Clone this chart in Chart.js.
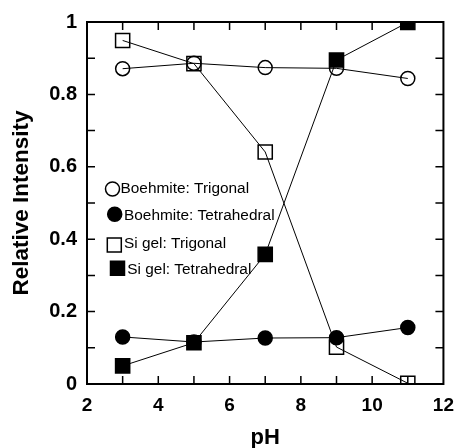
<!DOCTYPE html>
<html>
<head>
<meta charset="utf-8">
<script src="https://cdn.jsdelivr.net/npm/chart.js@4"></script>
<style>
  html, body { margin: 0; padding: 0; background: #fff; }
</style>
</head>
<body>
<canvas id="chart" width="464" height="448"></canvas>
<script>
// ==== Data ====
const phValues = [3, 5, 7, 9, 11];
const boehmiteTrigonal = [0.871, 0.886, 0.874, 0.872, 0.844];
const boehmiteTetrahedral = [0.130, 0.116, 0.127, 0.128, 0.156];
const siGelTrigonal = [0.949, 0.885, 0.641, 0.102, 0.002];
const siGelTetrahedral = [0.050, 0.114, 0.358, 0.895, 0.999];
const seriesLabels = ["Boehmite: Trigonal", "Boehmite: Tetrahedral", "Si gel: Trigonal", "Si gel: Tetrahedral"];

const FONT = "'Liberation Sans', Arial, Helvetica, sans-serif";

const toPoints = ys => phValues.map((x, i) => ({ x, y: ys[i] }));

function makeSet(label, ys, style, filled) {
  return {
    label,
    data: toPoints(ys),
    borderColor: "#000",
    borderWidth: 1,
    pointStyle: style,
    pointRadius: style === "rect" ? 10 : 7,
    pointBorderWidth: 1.5,
    pointBorderColor: "#000",
    pointBackgroundColor: filled ? "#000" : "rgba(0,0,0,0)",
    fill: false,
    tension: 0
  };
}

// legend placement (marker centre, text start, text baseline)
const legendSpots = [
  { mx: 112.5, my: 189, tx: 120.5, ty: 193.3 },
  { mx: 114.7, my: 214.3, tx: 124, ty: 219.7 },
  { mx: 114.3, my: 245, tx: 124, ty: 248 },
  { mx: 117.5, my: 268.3, tx: 127.3, ty: 273.5 }
];

// ==== Frame, inward ticks and legend ====
const framePlugin = {
  id: "frame",
  afterDatasetsDraw(chart) {
    const { ctx, chartArea: a, scales: { x, y } } = chart;
    ctx.save();
    ctx.strokeStyle = "#000";
    ctx.lineWidth = 1.5;
    const len = 8;
    for (let v = 3; v <= 11; v++) {
      const px = x.getPixelForValue(v);
      ctx.beginPath();
      ctx.moveTo(px, a.bottom); ctx.lineTo(px, a.bottom - len);
      ctx.moveTo(px, a.top); ctx.lineTo(px, a.top + len);
      ctx.stroke();
    }
    for (let i = 1; i <= 9; i++) {
      const py = y.getPixelForValue(i / 10);
      ctx.beginPath();
      ctx.moveTo(a.left, py); ctx.lineTo(a.left + len, py);
      ctx.moveTo(a.right, py); ctx.lineTo(a.right - len, py);
      ctx.stroke();
    }
    ctx.lineWidth = 2;
    ctx.strokeRect(a.left, a.top, a.right - a.left, a.bottom - a.top);

    // legend, drawn in the same order as the labels list
    ctx.font = "15.4px " + FONT;
    ctx.textBaseline = "alphabetic";
    ctx.fillStyle = "#000";
    const order = [3, 2, 1, 0];
    order.forEach((dsIndex, i) => {
      const ds = chart.data.datasets[dsIndex];
      const s = legendSpots[i];
      ctx.lineWidth = 1.5;
      ctx.beginPath();
      if (ds.pointStyle === "circle") {
        ctx.arc(s.mx, s.my, 7, 0, Math.PI * 2);
      } else {
        ctx.rect(s.mx - 7, s.my - 7, 14, 14);
      }
      if (ds.pointBackgroundColor === "#000") ctx.fill();
      ctx.stroke();
      ctx.fillText(ds.label, s.tx, s.ty);
    });
    ctx.restore();
  }
};

new Chart(document.getElementById("chart"), {
  type: "line",
  data: {
    // last one drawn first, so filled squares end on top
    datasets: [
      makeSet(seriesLabels[3], siGelTetrahedral, "rect", true),
      makeSet(seriesLabels[2], siGelTrigonal, "rect", false),
      makeSet(seriesLabels[1], boehmiteTetrahedral, "circle", true),
      makeSet(seriesLabels[0], boehmiteTrigonal, "circle", false)
    ]
  },
  options: {
    responsive: false,
    animation: false,
    layout: { padding: { left: 0, top: 19, right: 12, bottom: 0 } },
    plugins: { legend: { display: false }, tooltip: { enabled: false } },
    scales: {
      x: {
        type: "linear",
        min: 2, max: 12,
        grid: { display: false, drawTicks: false },
        border: { display: false },
        ticks: { stepSize: 2, padding: 10, color: "#000", font: { family: FONT, size: 19, weight: "bold" } },
        title: { display: true, text: "pH", color: "#000", padding: { top: 0, bottom: 0 }, font: { family: FONT, size: 22, weight: "bold", lineHeight: 0.9 } },
        afterFit: s => { s.height = 64; }
      },
      y: {
        min: 0, max: 1,
        grid: { display: false, drawTicks: false },
        border: { display: false },
        ticks: {
          stepSize: 0.2, padding: 10, color: "#000",
          font: { family: FONT, size: 20, weight: "bold" },
          callback: v => (v === 0 || v === 1) ? String(v) : v.toFixed(1)
        },
        title: { display: true, text: "Relative Intensity", color: "#000", padding: { top: 8, bottom: 0 }, font: { family: FONT, size: 22.5, weight: "bold" } },
        afterFit: s => { s.width = 87; }
      }
    }
  },
  plugins: [framePlugin]
});
</script>
</body>
</html>
